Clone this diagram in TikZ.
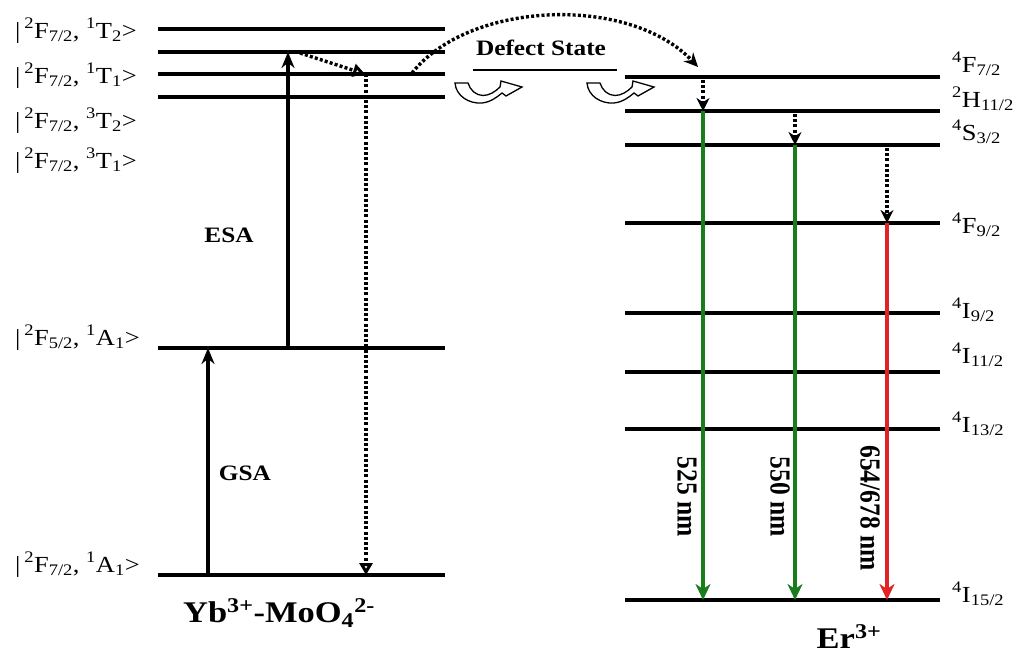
\documentclass[tikz,border=0pt]{standalone}
\usepackage{fontspec}
\setmainfont{Liberation Serif}[FakeStretch=1.15]
\newfontfamily\rotfont{Liberation Serif}[FakeStretch=0.88]
\usetikzlibrary{arrows.meta,positioning,calc}
\definecolor{emgreen}{RGB}{25,125,30}
\definecolor{emred}{RGB}{225,35,35}
\newcommand{\ybstate}[4]{|\,\textsuperscript{2}F\textsubscript{#1}, \textsuperscript{#2}#3\textsubscript{#4}>}
\newcommand{\erstate}[3]{\textsuperscript{#1}#2\textsubscript{#3}}

\begin{document}
\begin{tikzpicture}[x=1pt,y=-1pt,
    level/.style={line width=3.8pt},
    lvllabel/.style={anchor=base west, inner sep=0pt, font=\fontsize{23}{25}\selectfont},
    ionlabel/.style={anchor=base, inner sep=0pt, font=\fontsize{30}{32}\selectfont\bfseries},
    proclabel/.style={anchor=base, inner sep=0pt, font=\fontsize{22}{24}\selectfont\bfseries},
    pump/.style={-{Stealth[length=16pt,width=13pt]}, line width=3.6pt},
    decay/.style={line width=3.4pt, dash pattern=on 3pt off 2.2pt},
    emit/.style={-{Stealth[length=16pt,width=15pt,inset=5pt]}, line width=3.6pt},
    wavelabel/.style={rotate=-90, inner sep=0pt, font=\fontsize{29}{31}\selectfont\rotfont\bfseries},
    turnarrow/.pic={
      \draw[line width=1.3pt, fill=white] (0,0) .. controls (1,13) and (14,21) .. (27,20)
        .. controls (36,19) and (42,14) .. (47,10) -- (51,13) -- (67,4) -- (46,-2) -- (45,4)
        .. controls (40,9) and (34,12.5) .. (28,12.5) .. controls (21,12.5) and (15,7) .. (13,0) -- cycle;
    }
  ]
  \useasboundingbox (0,0) rectangle (1016,656);

  % columns of the transitions
  \coordinate (gsa) at (208,0);
  \coordinate (esa) at (288,0);
  \coordinate (back) at (366,0);
  \coordinate (em1) at (703,0);
  \coordinate (em2) at (795,0);
  \coordinate (em3) at (887,0);

  % Yb-MoO4 levels
  \foreach \n/\y in {yb1/29, yb2/52, yb3/74, yb4/97, ybF/348, ybG/575}
    \draw[level] (158,\y) -- (445,\y) coordinate (\n);

  \node[lvllabel] (lab1) at (15,38)  {\ybstate{7/2}{1}{T}{2}};
  \node[lvllabel] (lab2) at (15,83)  {\ybstate{7/2}{1}{T}{1}};
  \node[lvllabel] (lab3) at (15,128) {\ybstate{7/2}{3}{T}{2}};
  \node[lvllabel] (lab4) at (15,168) {\ybstate{7/2}{3}{T}{1}};
  \node[lvllabel] (lab5) at (15,345) {\ybstate{5/2}{1}{A}{1}};
  \node[lvllabel] (lab6) at (15,572) {\ybstate{7/2}{1}{A}{1}};

  % Yb absorption
  \draw[pump] (gsa |- ybG) -- (gsa |- ybF);
  \draw[pump] (esa |- ybF) -- (esa |- yb2);
  \node[proclabel] (gsalab) at (245,480) {GSA};
  \node[proclabel] (esalab) at (229,242) {ESA};

  % relaxation in Yb-MoO4
  \coordinate (esatop) at ($(esa |- yb2)+(12,1)$);
  \draw[decay, -{Triangle[open, length=12pt, width=13pt]}] (esatop) -- ($(back |- yb3)+(-1,0)$);
  \draw[decay, -{Triangle[open, length=12pt, width=13pt]}] (back |- yb3) -- (back |- ybG);

  % defect state
  \draw[line width=2.6pt] (473,70) coordinate (dfl) -- (617,70) coordinate (dfr);
  \node[proclabel] (defect) at (541,55) {Defect State};
  \pic at (455,83) {turnarrow};
  \pic at (587,83) {turnarrow};

  % Er levels
  \foreach \n/\y in {er1/77, er2/111, er3/145, er4/223, er5/313, er6/372, er7/429, er8/600}
    \draw[level] (625,\y) -- (940,\y) coordinate (\n);

  \node[lvllabel] (er1lab) at (952,72)  {\erstate{4}{F}{7/2}};
  \node[lvllabel] (er2lab) at (952,107) {\erstate{2}{H}{11/2}};
  \node[lvllabel] (er3lab) at (952,140) {\erstate{4}{S}{3/2}};
  \node[lvllabel] (er4lab) at (952,233) {\erstate{4}{F}{9/2}};
  \node[lvllabel] (er5lab) at (952,318) {\erstate{4}{I}{9/2}};
  \node[lvllabel] (er6lab) at (952,363) {\erstate{4}{I}{11/2}};
  \node[lvllabel] (er7lab) at (952,432) {\erstate{4}{I}{13/2}};
  \node[lvllabel] (er8lab) at (952,602) {\erstate{4}{I}{15/2}};

  % energy transfer to Er
  \coordinate (etfrom) at (412,73);
  \coordinate (etto) at (698,67);
  \draw[decay, -{Stealth[length=14pt,width=13pt]}] (etfrom) .. controls (470,0) and (630,-5) .. (etto);

  % non-radiative decay in Er
  \draw[decay, -{Stealth[length=13pt,width=13pt]}] ($(em1 |- er1)+(0,3)$) -- (em1 |- er2);
  \draw[decay, -{Stealth[length=13pt,width=13pt]}] ($(em2 |- er2)+(0,3)$) -- (em2 |- er3);
  \draw[decay, -{Stealth[length=13pt,width=13pt]}] ($(em3 |- er3)+(0,3)$) -- (em3 |- er4);

  % emissions
  \draw[emit, emgreen] (em1 |- er2) -- (em1 |- er8);
  \draw[emit, emgreen] (em2 |- er3) -- (em2 |- er8);
  \draw[emit, emred]   (em3 |- er4) -- (em3 |- er8);
  \node[wavelabel] (w525) at (687,497) {525 nm};
  \node[wavelabel] (w550) at (780,497) {550 nm};
  \node[wavelabel] (w654) at (870,508) {654/678 nm};

  % ion labels
  \node[ionlabel] (yblab) at (279,622) {Yb\textsuperscript{3+}-MoO\textsubscript{4}\textsuperscript{2-}};
  \node[ionlabel] (erlab) at (849,648) {Er\textsuperscript{3+}};
\end{tikzpicture}
\end{document}
